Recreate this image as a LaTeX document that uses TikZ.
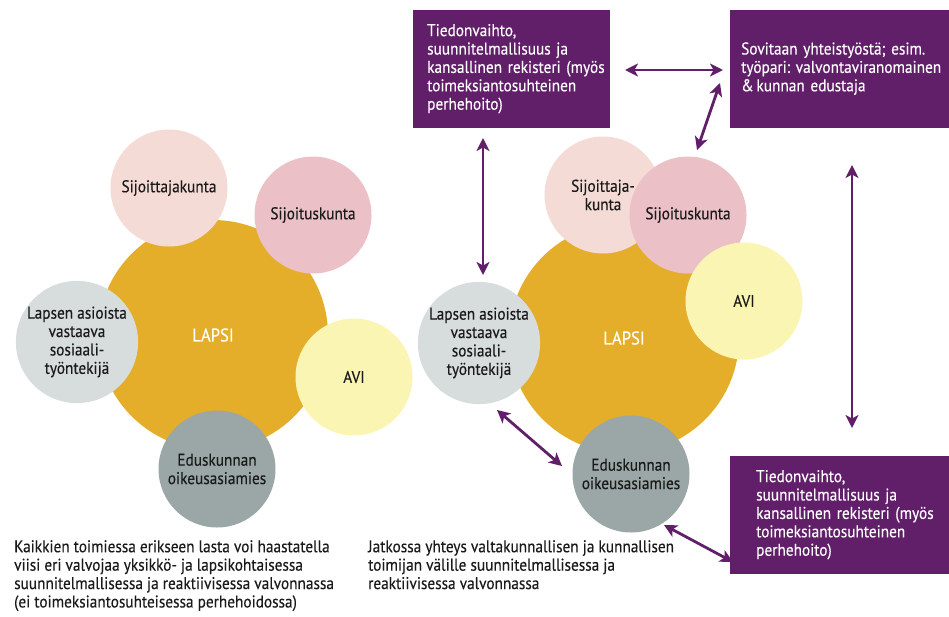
\documentclass[tikz,border=0pt]{standalone}
\usepackage{fontspec}
\setmainfont{PT Sans}[FakeStretch=0.9,FakeBold=0.3]
\usetikzlibrary{arrows.meta}
\definecolor{lapsi}{HTML}{E5AE2A}
\definecolor{peach}{HTML}{F4DBD5}
\definecolor{rose}{HTML}{EBC1C7}
\definecolor{lemon}{HTML}{FBF5B3}
\definecolor{lightgrey}{HTML}{D7DCDC}
\definecolor{sage}{HTML}{9AA7A6}
\definecolor{plum}{HTML}{611F69}
\definecolor{ink}{HTML}{1A1A1A}
\newcommand\boxlines[1]{\begin{tabular}{@{}l@{}}#1\end{tabular}}
\tikzset{
  txt/.style={font=\fontsize{17}{18.4}\selectfont\frenchspacing, text=ink},
  bubble/.style={circle, minimum size=117pt, inner sep=0pt, align=center, txt},
  bigbubble/.style={circle, fill=lapsi, minimum size=230pt, inner sep=0pt, text=white, font=\fontsize{18.5}{20}\selectfont},
  pbox/.style={rectangle, fill=plum, text=white, align=left, anchor=north west, inner ysep=0pt,
     font=\fontsize{17}{18.4}\selectfont\frenchspacing},
  arr/.style={draw=plum, line width=2.8pt, {Stealth[length=13pt,width=13pt,inset=3.5pt]}-{Stealth[length=13pt,width=13pt,inset=3.5pt]}},
  para/.style={txt, align=left, anchor=north west, inner sep=0pt}
}
\begin{document}
\begin{tikzpicture}[x=1pt,y=-1pt]
\useasboundingbox (0,0) rectangle (949,616);
% ---------- left cluster ----------
\node[bigbubble] (lapsiL) at (213,335) {LAPSI};
\node[bubble, fill=peach] (sijoittajaL) at (169,188) {Sijoittajakunta};
\node[bubble, fill=rose] (sijoitusL) at (313,215) {Sijoituskunta};
\node[bubble, fill=lightgrey] (lapsenL) at (77,342) {Lapsen asioista\\vastaava\\sosiaali-\\työntekijä};
\node[bubble, fill=lemon] (aviL) at (354,377) {AVI};
\node[bubble, fill=sage] (eduskL) at (217,469) {Eduskunnan\\oikeusasiamies};
% ---------- right cluster ----------
\node[bigbubble] (lapsiR) at (624,338) {LAPSI};
\node[bubble, fill=peach] (sijoittajaR) at (603,195) {Sijoittaja-\\kunta};
\node[bubble, fill=rose] (sijoitusR) at (688,215) {Sijoituskunta};
\node[bubble, fill=lemon] (aviR) at (744,301) {AVI};
\node[bubble, fill=lightgrey] (lapsenR) at (479,343) {Lapsen asioista\\vastaava\\sosiaali-\\työntekijä};
\node[bubble, fill=sage] (eduskR) at (631,474) {Eduskunnan\\oikeusasiamies};
% ---------- purple boxes ----------
\node[pbox, minimum width=197pt, minimum height=118pt, inner xsep=14pt, text width=169pt] (boxTL) at (413,10)
  {\boxlines{Tiedonvaihto,\\suunnitelmallisuus ja\\kansallinen rekisteri (myös\\toimeksiantosuhteinen\\perhehoito)}};
\node[pbox, minimum width=219pt, minimum height=118pt, inner xsep=11pt, text width=197pt] (boxTR) at (730,10)
  {\boxlines{Sovitaan yhteistyöstä; esim.\\työpari: valvontaviranomainen\\\&\,kunnan edustaja}};
\node[pbox, minimum width=219pt, minimum height=118pt, inner xsep=26pt, text width=167pt] (boxBR) at (730,456)
  {\boxlines{Tiedonvaihto,\\suunnitelmallisuus ja\\kansallinen rekisteri (myös\\toimeksiantosuhteinen\\perhehoito)}};
% ---------- bottom paragraphs ----------
\node[para] (noteL) at (14,540) {Kaikkien toimiessa erikseen lasta voi haastatella\\viisi eri valvojaa yksikkö- ja lapsikohtaisessa\\suunnitelmallisessa ja reaktiivisessa valvonnassa\\(ei toimeksiantosuhteisessa perhehoidossa)};
\node[para] (noteR) at (368,540) {Jatkossa yhteys valtakunnallisen ja kunnallisen\\toimijan välille suunnitelmallisessa ja\\reaktiivisessa valvonnassa};
% ---------- arrow end points ----------
\coordinate (a1s) at (625,70);  \coordinate (a1e) at (723,70);
\coordinate (a2s) at (697,150); \coordinate (a2e) at (720,83);
\coordinate (a3s) at (483,138); \coordinate (a3e) at (483,275);
\coordinate (a4s) at (852,165); \coordinate (a4e) at (852,428);
\coordinate (a5s) at (497,410); \coordinate (a5e) at (562,466);
\coordinate (a6s) at (664,525); \coordinate (a6e) at (733,562);
% ---------- arrows ----------
\draw[arr] (a1s) -- (a1e);
\draw[arr] (a2s) -- (a2e);
\draw[arr] (a3s) -- (a3e);
\draw[arr] (a4s) -- (a4e);
\draw[arr] (a5s) -- (a5e);
\draw[arr] (a6s) -- (a6e);
\end{tikzpicture}
\end{document}
